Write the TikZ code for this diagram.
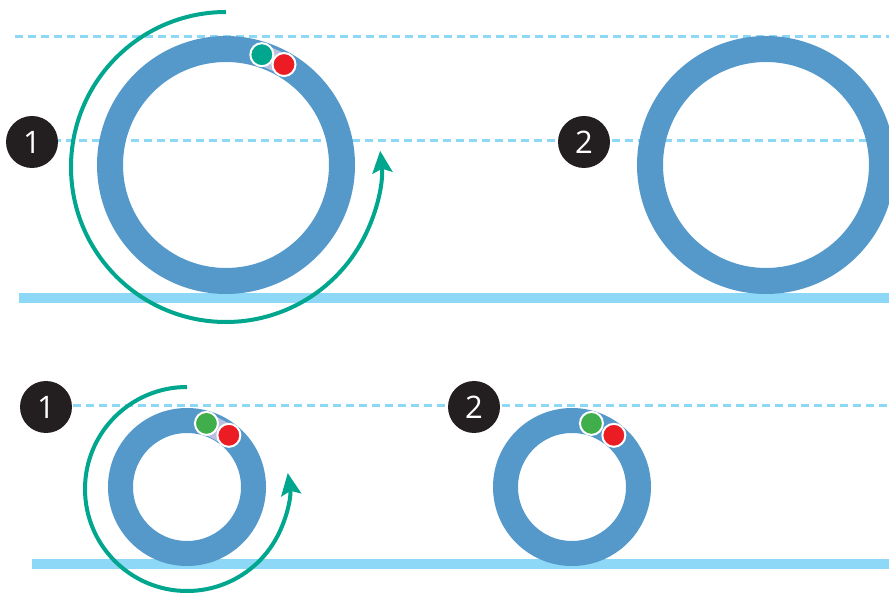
\documentclass[tikz,border=0pt]{standalone}
\usepackage{fontspec}
\setmainfont{Open Sans}
\usetikzlibrary{arrows.meta}
\definecolor{ringblue}{HTML}{5599CB}
\definecolor{guideblue}{HTML}{8ED8F7}
\definecolor{turnteal}{HTML}{00A68D}
\definecolor{dotgreen}{HTML}{40AE4A}
\definecolor{dotred}{HTML}{EC1C24}
\definecolor{lav}{HTML}{BCC0DF}
\definecolor{badgeblack}{HTML}{231F20}
\begin{document}
\begin{tikzpicture}[x=1pt,y=1pt,
  guideline/.style={guideblue, line width=3pt, dash pattern=on 8pt off 5pt},
  floorline/.style={guideblue, line width=10pt},
  ringline/.style={ringblue, line width=#1},
  turn/.style={turnteal, line width=4pt, -{Stealth[length=22pt,width=20pt,inset=4pt]}},
  badgenode/.style={circle, fill=badgeblack, minimum size=52pt, inner sep=0pt, text=white, font=\fontsize{31}{31}\selectfont},
  dotnode/.style={circle, draw=white, line width=2pt, minimum size=23pt, inner sep=0pt, fill=#1},
  contact/.style={lav, line width=21pt}
]
\useasboundingbox (0,0) rectangle (889,592);
\clip (0,0) rectangle (889,592);

% centres
\coordinate (c1) at (226,427);
\coordinate (c2) at (766,427);
\coordinate (d1) at (187,105);
\coordinate (d2) at (572,105);

% guide lines
\coordinate (g1a) at (15,555);  \coordinate (g1b) at (889,555);
\coordinate (g2a) at (40,451);  \coordinate (g2b) at (889,451);
\coordinate (g3a) at (60,186);  \coordinate (g3b) at (889,186);
\draw[guideline] (g1a) -- (g1b);
\draw[guideline] (g2a) -- (g2b);
\draw[guideline] (g3a) -- (g3b);

% floors
\coordinate (f1a) at (19,294);  \coordinate (f1b) at (889,294);
\coordinate (f2a) at (32,28);   \coordinate (f2b) at (889,28);
\draw[floorline] (f1a) -- (f1b);
\draw[floorline] (f2a) -- (f2b);

% rings
\draw[ringline=26pt] (c1) circle[radius=116];
\draw[ringline=26pt] (c2) circle[radius=116];
\draw[ringline=25pt] (d1) circle[radius=66.5];
\draw[ringline=25pt] (d2) circle[radius=66.5];

% rotation arrows
\draw[turn] ([shift={(90:155)}]226,425) arc[start angle=90, end angle=366, radius=155];
\draw[turn] ([shift={(90:102)}]187,103) arc[start angle=90, end angle=369, radius=102];

% contact points
\coordinate (p1) at ([shift={(72:116)}]c1);
\coordinate (q1) at ([shift={(60:116)}]c1);
\draw[contact] (p1) -- (q1);
\node[dotnode=turnteal] (pt1) at (p1) {};
\node[dotnode=dotred] (qt1) at (q1) {};

\coordinate (p2) at ([shift={(73:66.5)}]d1);
\coordinate (q2) at ([shift={(51:66.5)}]d1);
\draw[contact] (p2) -- (q2);
\node[dotnode=dotgreen] (pb1) at (p2) {};
\node[dotnode=dotred] (qb1) at (q2) {};

\coordinate (p3) at ([shift={(73:66.5)}]d2);
\coordinate (q3) at ([shift={(51:66.5)}]d2);
\node[dotnode=dotgreen] (pb2) at (p3) {};
\node[dotnode=dotred] (qb2) at (q3) {};

% badges
\node[badgenode] (b1) at (32,450) {1};
\node[badgenode] (b2) at (584,450) {2};
\node[badgenode] (b3) at (46,185) {1};
\node[badgenode] (b4) at (474,185) {2};
\end{tikzpicture}
\end{document}
